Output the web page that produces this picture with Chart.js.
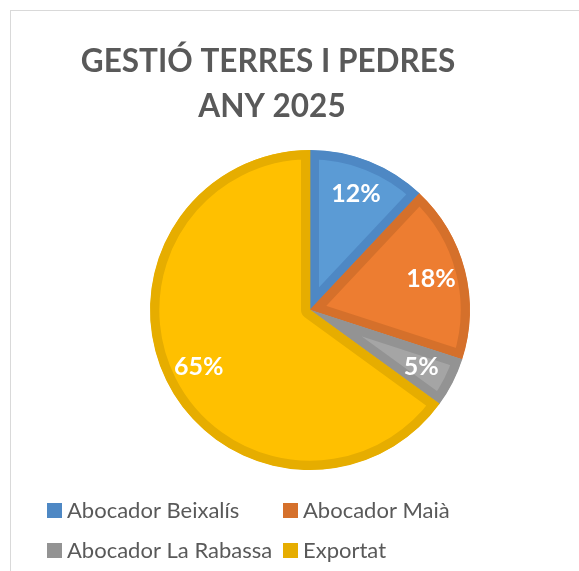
<!DOCTYPE html>
<html>
<head>
<meta charset="utf-8">
<script src="https://cdn.jsdelivr.net/npm/chart.js@4"></script>
<style>
    html, body { margin: 0; padding: 0; background: #fff; overflow: hidden; }
    #wrap { position: relative; width: 579px; height: 571px; }
    #frame { position: absolute; left: 10px; top: 10px; width: 600px; height: 600px; border: 1px solid #d9d9d9; }
    canvas { position: absolute; left: 0; top: 0; }
</style>
</head>
<body>
<div id="wrap">
    <div id="frame"></div>
    <canvas id="pieChart" width="579" height="571"></canvas>
</div>
<script>
// Chart data
const titleLines = ["GESTIÓ TERRES I PEDRES", "ANY 2025"];
const categories = ["Abocador Beixalís", "Abocador Maià", "Abocador La Rabassa", "Exportat"];
const percentValues = [12, 18, 5, 65];
const fillColors = ["#5B9BD5", "#ED7D31", "#A5A5A5", "#FFC000"];
const edgeColors = ["#4E88C4", "#D5702B", "#939393", "#E6AD00"];

const textGrey = "#595959";

// Title drawn in its own spot (it is not centred over the pie in the original)
const titlePlugin = {
    id: "titleLines",
    afterDraw(chart) {
        const ctx = chart.ctx;
        ctx.save();
        ctx.fillStyle = textGrey;
        ctx.font = "bold 31.5px Lato";
        ctx.textAlign = "center";
        ctx.textBaseline = "alphabetic";
        ctx.fillText(titleLines[0], 268, 72);
        ctx.fillText(titleLines[1], 272, 117);
        ctx.restore();
    }
};

// Percentage labels inside each slice
const sliceLabels = {
    id: "sliceLabels",
    afterDatasetsDraw(chart) {
        const ctx = chart.ctx;
        const meta = chart.getDatasetMeta(0);
        ctx.save();
        ctx.fillStyle = "#ffffff";
        ctx.font = "bold 25px Lato";
        ctx.textAlign = "center";
        ctx.textBaseline = "middle";
        meta.data.forEach((arc, i) => {
            const p = arc.getProps(["x", "y", "startAngle", "endAngle", "outerRadius"], true);
            const mid = (p.startAngle + p.endAngle) / 2;
            const r = p.outerRadius * 0.78;
            ctx.fillText(percentValues[i] + "%", p.x + Math.cos(mid) * r, p.y + Math.sin(mid) * r);
        });
        ctx.restore();
    }
};

// Legend laid out in two columns like the original
const gridLegend = {
    id: "gridLegend",
    afterDraw(chart) {
        const ctx = chart.ctx;
        const colX = [47, 283];
        const rowY = [518, 558];
        ctx.save();
        ctx.font = "22px Lato";
        ctx.textBaseline = "alphabetic";
        ctx.textAlign = "left";
        chart.data.labels.forEach((label, i) => {
            const x = colX[i % 2];
            const y = rowY[Math.floor(i / 2)];
            ctx.fillStyle = edgeColors[i];
            ctx.fillRect(x, y - 15, 15, 15);
            ctx.fillStyle = textGrey;
            ctx.fillText(label, x + 20, y);
        });
        ctx.restore();
    }
};

const ctx = document.getElementById("pieChart").getContext("2d");
const pieChart = new Chart(ctx, {
    type: "pie",
    data: {
        labels: categories,
        datasets: [{
            data: percentValues,
            backgroundColor: fillColors,
            borderColor: edgeColors,
            borderWidth: 9,
            borderAlign: "inner"
        }]
    },
    options: {
        responsive: false,
        animation: false,
        layout: {
            padding: { left: 150, right: 109, top: 150, bottom: 101 }
        },
        plugins: {
            legend: { display: false },
            title: { display: false },
            tooltip: { enabled: false }
        }
    },
    plugins: [titlePlugin, sliceLabels, gridLegend]
});
</script>
</body>
</html>
